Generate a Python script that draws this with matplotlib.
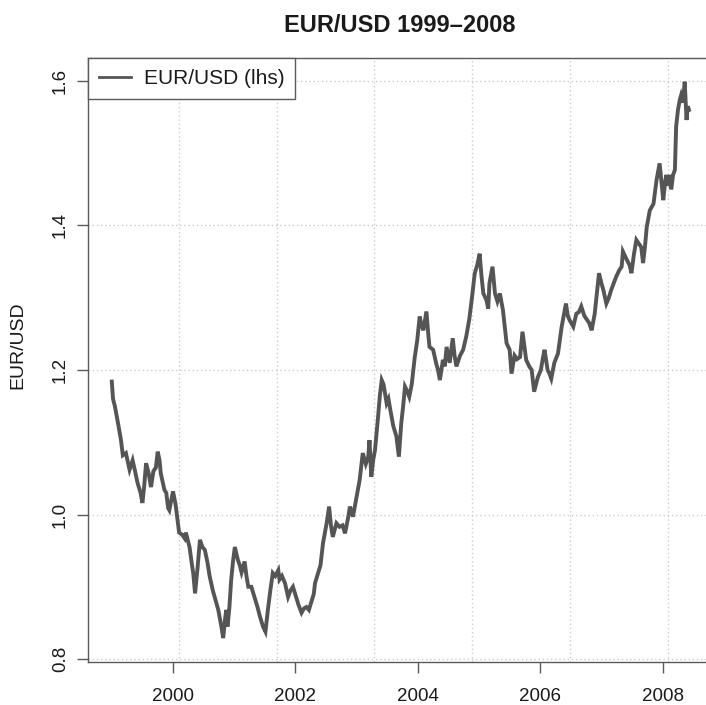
import matplotlib
matplotlib.use("Agg")
import matplotlib.pyplot as plt
import numpy as np

plt.rcParams['font.family'] = ['Liberation Sans', 'DejaVu Sans']

# decimal-year dates and EUR/USD values
dates = [
    1999.00, 1999.02, 1999.05, 1999.10, 1999.15, 1999.18, 1999.23, 1999.29, 1999.34, 1999.38,
    1999.42, 1999.47, 1999.50, 1999.53, 1999.56, 1999.60, 1999.64, 1999.68, 1999.72, 1999.75,
    1999.78, 1999.80, 1999.86, 1999.89, 1999.92, 1999.94, 2000.00, 2000.04, 2000.08, 2000.10,
    2000.15, 2000.19, 2000.21, 2000.27, 2000.31, 2000.33, 2000.36, 2000.40, 2000.44, 2000.48,
    2000.52, 2000.56, 2000.60, 2000.65, 2000.68, 2000.74, 2000.79, 2000.82, 2000.85, 2000.87,
    2000.89, 2000.92, 2000.95, 2000.98, 2001.01, 2001.06, 2001.09, 2001.12, 2001.17, 2001.20,
    2001.23, 2001.28, 2001.33, 2001.38, 2001.42, 2001.47, 2001.51, 2001.55, 2001.59, 2001.63,
    2001.67, 2001.72, 2001.74, 2001.78, 2001.83, 2001.88, 2001.92, 2001.96, 2002.01, 2002.05,
    2002.10, 2002.14, 2002.18, 2002.22, 2002.26, 2002.30, 2002.32, 2002.37, 2002.41, 2002.45,
    2002.51, 2002.55, 2002.58, 2002.61, 2002.67, 2002.72, 2002.77, 2002.81, 2002.86, 2002.89,
    2002.94, 2003.00, 2003.05, 2003.10, 2003.15, 2003.19, 2003.21, 2003.24, 2003.27, 2003.30,
    2003.35, 2003.38, 2003.41, 2003.44, 2003.49, 2003.52, 2003.55, 2003.60, 2003.65, 2003.69,
    2003.73, 2003.76, 2003.79, 2003.83, 2003.86, 2003.90, 2003.95, 2003.99, 2004.03, 2004.06,
    2004.09, 2004.14, 2004.17, 2004.19, 2004.25, 2004.30, 2004.33, 2004.36, 2004.41, 2004.44,
    2004.47, 2004.52, 2004.57, 2004.60, 2004.63, 2004.69, 2004.74, 2004.79, 2004.84, 2004.88,
    2004.93, 2004.97, 2005.01, 2005.04, 2005.07, 2005.12, 2005.15, 2005.17, 2005.22, 2005.26,
    2005.30, 2005.34, 2005.39, 2005.42, 2005.45, 2005.50, 2005.53, 2005.58, 2005.62, 2005.67,
    2005.71, 2005.77, 2005.82, 2005.86, 2005.90, 2005.93, 2005.96, 2006.01, 2006.04, 2006.07,
    2006.12, 2006.15, 2006.18, 2006.23, 2006.29, 2006.35, 2006.42, 2006.45, 2006.48, 2006.54,
    2006.59, 2006.63, 2006.67, 2006.72, 2006.76, 2006.80, 2006.84, 2006.89, 2006.93, 2006.96,
    2007.00, 2007.03, 2007.08, 2007.12, 2007.16, 2007.20, 2007.24, 2007.29, 2007.33, 2007.35,
    2007.40, 2007.43, 2007.46, 2007.49, 2007.53, 2007.57, 2007.61, 2007.65, 2007.68, 2007.71,
    2007.74, 2007.79, 2007.85, 2007.90, 2007.95, 2007.98, 2008.01, 2008.04, 2008.06, 2008.09,
    2008.12, 2008.14, 2008.17, 2008.20, 2008.22, 2008.25, 2008.28, 2008.30, 2008.33, 2008.36,
    2008.39, 2008.41, 2008.43,
]
eurusd = [
    1.184, 1.160, 1.150, 1.127, 1.103, 1.082, 1.085, 1.062, 1.075, 1.060,
    1.044, 1.030, 1.016, 1.040, 1.071, 1.058, 1.038, 1.060, 1.065, 1.087,
    1.075, 1.057, 1.034, 1.030, 1.009, 1.006, 1.032, 1.015, 0.988, 0.975,
    0.972, 0.967, 0.975, 0.955, 0.930, 0.919, 0.891, 0.925, 0.965, 0.955,
    0.951, 0.935, 0.914, 0.895, 0.886, 0.868, 0.845, 0.829, 0.855, 0.868,
    0.845, 0.870, 0.909, 0.935, 0.955, 0.937, 0.930, 0.920, 0.935, 0.915,
    0.900, 0.900, 0.886, 0.872, 0.859, 0.845, 0.838, 0.868, 0.895, 0.919,
    0.915, 0.923, 0.910, 0.915, 0.905, 0.886, 0.895, 0.900, 0.886, 0.875,
    0.864, 0.870, 0.872, 0.868, 0.879, 0.890, 0.905, 0.919, 0.930, 0.960,
    0.988, 1.011, 0.985, 0.969, 0.988, 0.983, 0.985, 0.974, 0.995, 1.011,
    0.997, 1.025, 1.048, 1.085, 1.070, 1.080, 1.103, 1.052, 1.075, 1.089,
    1.135, 1.165, 1.186, 1.180, 1.154, 1.160, 1.145, 1.122, 1.108, 1.080,
    1.127, 1.150, 1.177, 1.170, 1.163, 1.180, 1.218, 1.241, 1.274, 1.262,
    1.255, 1.281, 1.250, 1.232, 1.228, 1.209, 1.200, 1.186, 1.214, 1.205,
    1.232, 1.210, 1.244, 1.220, 1.205, 1.220, 1.228, 1.246, 1.270, 1.297,
    1.334, 1.345, 1.361, 1.330, 1.306, 1.297, 1.285, 1.320, 1.343, 1.306,
    1.295, 1.306, 1.283, 1.260, 1.237, 1.228, 1.195, 1.220, 1.215, 1.218,
    1.253, 1.214, 1.205, 1.200, 1.170, 1.180, 1.190, 1.200, 1.215, 1.228,
    1.200, 1.195, 1.188, 1.210, 1.223, 1.260, 1.292, 1.275, 1.269, 1.260,
    1.278, 1.280, 1.288, 1.275, 1.270, 1.265, 1.255, 1.278, 1.310, 1.334,
    1.320, 1.311, 1.292, 1.300, 1.311, 1.320, 1.329, 1.338, 1.343, 1.364,
    1.355, 1.350, 1.345, 1.334, 1.360, 1.380, 1.375, 1.370, 1.348, 1.370,
    1.398, 1.421, 1.430, 1.463, 1.486, 1.460, 1.435, 1.460, 1.470, 1.455,
    1.470, 1.450, 1.470, 1.477, 1.537, 1.560, 1.574, 1.580, 1.570, 1.599,
    1.546, 1.565, 1.560,
]
x_ticks = [2000, 2002, 2004, 2006, 2008]
y_ticks = [0.8, 1.0, 1.2, 1.4, 1.6]
x_grid = [2000.09, 2001.70, 2003.28, 2004.89, 2006.48, 2008.08]
title = "EUR/USD 1999\u20132008"
series_label = "EUR/USD (lhs)"

W, H = 706, 705
fig = plt.figure(figsize=(W / 100, H / 100), dpi=100)
left, right, top, bottom = 88.3, 712.0, 58.0, 662.0
ax = fig.add_axes([left / W, 1 - bottom / H, (right - left) / W, (bottom - top) / H])

line_col = '#555555'
frame_col = '#5a5a5a'

for yv in y_ticks:
    ax.axhline(yv, color='#cccccc', lw=1.0, ls=(0, (1, 2)), zorder=0)
for xv in x_grid:
    ax.axvline(xv, color='#cccccc', lw=1.0, ls=(0, (1, 2)), zorder=0)

ax.plot(dates, eurusd, color=line_col, lw=2.8, solid_joinstyle='miter', label=series_label, zorder=2)

ax.set_xlim(1998.616, 2008.806)
ax.set_ylim(0.7959, 1.6318)
ax.set_xticks(x_ticks)
ax.set_xticklabels([str(v) for v in x_ticks])
ax.set_yticks(y_ticks)
ax.set_yticklabels([f"{v:.1f}" for v in y_ticks], rotation=90, va='center')
ax.tick_params(axis='both', direction='out', length=8, width=1.0, color=frame_col,
               labelsize=13.5, labelcolor='#1a1a1a')
ax.tick_params(axis='x', pad=11)
ax.tick_params(axis='y', pad=6)
for s in ax.spines.values():
    s.set_color(frame_col)
    s.set_linewidth(1.0)

leg = ax.legend(loc='upper left', borderaxespad=0, fancybox=False, framealpha=1,
                edgecolor=frame_col, fontsize=15, handlelength=1.55,
                handletextpad=0.6, borderpad=0.52)
leg.get_frame().set_linewidth(1.0)
leg.legend_handles[0].set_linewidth(2.0)
for t in leg.get_texts():
    t.set_color('#1a1a1a')

fig.text(400 / W, 1 - 25 / H, title, ha='center', va='center', fontsize=17,
         fontweight='bold', color='#1a1a1a')
fig.text(18 / W, 1 - 345 / H, "EUR/USD", ha='center', va='center', rotation=90,
         fontsize=14, color='#1a1a1a')

fig.savefig('out.png', dpi=100)
